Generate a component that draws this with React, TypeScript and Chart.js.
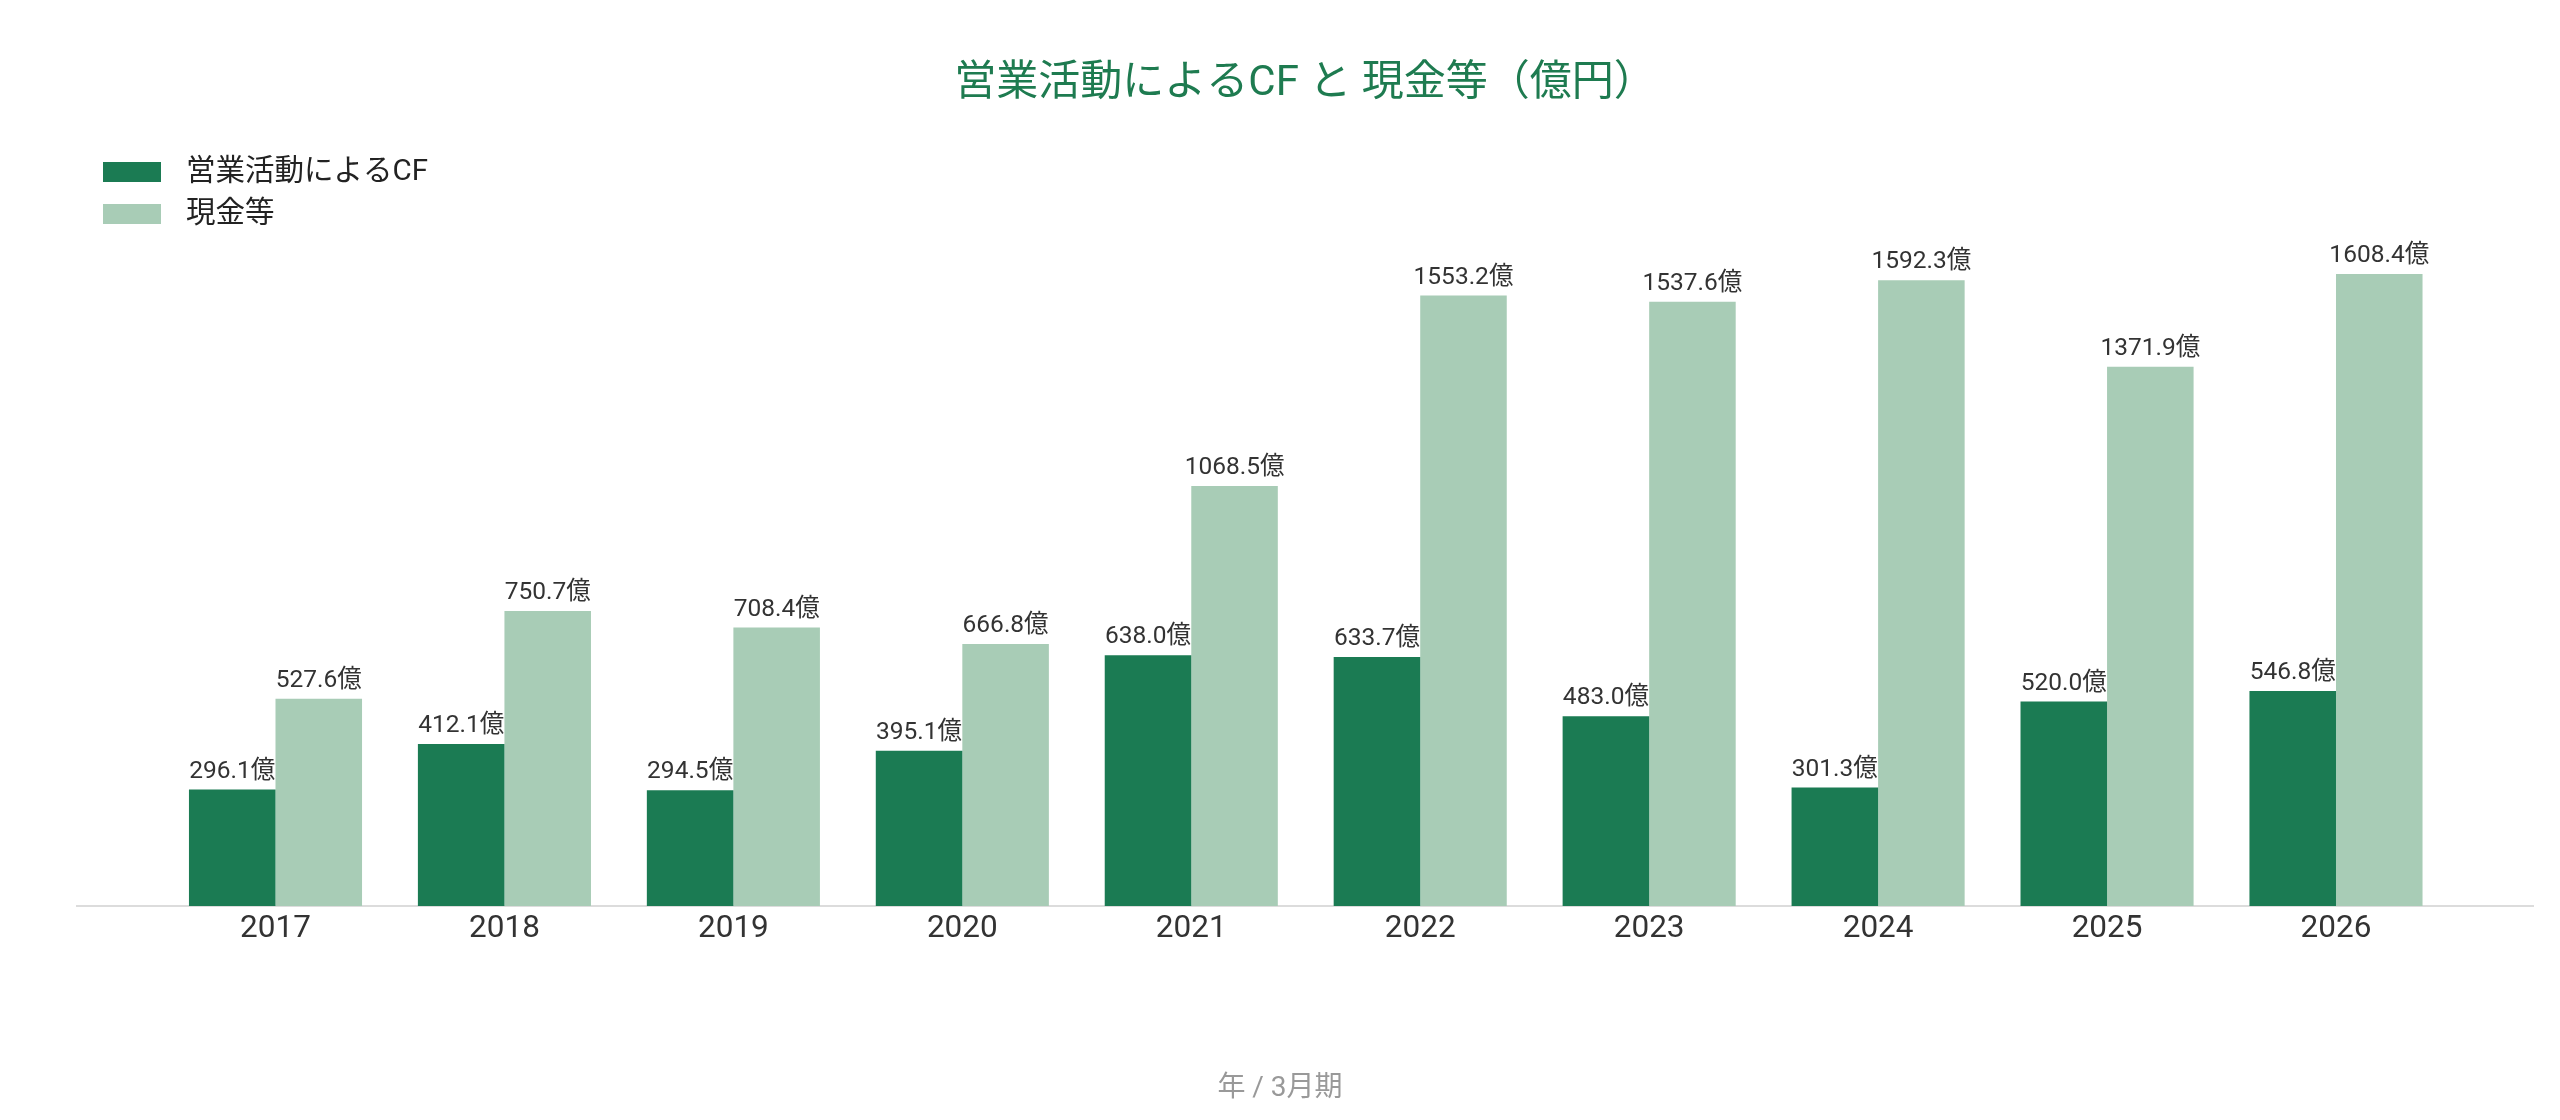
import React, { useEffect, useRef } from 'react';
import { Chart, registerables } from 'chart.js';

Chart.register(...registerables);

const years: number[] = [2017, 2018, 2019, 2020, 2021, 2022, 2023, 2024, 2025, 2026];
const operatingCF: number[] = [296.1, 412.1, 294.5, 395.1, 638.0, 633.7, 483.0, 301.3, 520.0, 546.8];
const cashEquivalents: number[] = [527.6, 750.7, 708.4, 666.8, 1068.5, 1553.2, 1537.6, 1592.3, 1371.9, 1608.4];
const seriesNames: string[] = ['営業活動によるCF', '現金等'];
const chartTitle = '営業活動によるCF と 現金等（億円）';
const xAxisTitle = '年 / 3月期';
const unitSuffix = '億';

const FONT = "Roboto, 'Noto Sans CJK JP', sans-serif";
const DARK = '#1b7b53';
const LIGHT = '#a8ccb6';

const decorPlugin = {
  id: 'decor',
  afterDatasetsDraw(chart: any) {
    const ctx = chart.ctx;
    ctx.save();
    ctx.font = `24.5px ${FONT}`;
    ctx.fillStyle = '#333333';
    ctx.textAlign = 'center';
    ctx.textBaseline = 'alphabetic';
    chart.data.datasets.forEach((ds: any, di: number) => {
      const meta = chart.getDatasetMeta(di);
      meta.data.forEach((bar: any, i: number) => {
        const v = ds.data[i].y as number;
        ctx.fillText(v.toFixed(1) + unitSuffix, bar.x, bar.y - 12);
      });
    });
    ctx.restore();
  },
  afterDraw(chart: any) {
    const ctx = chart.ctx;
    ctx.save();
    // legend (vertical, top-left)
    chart.data.datasets.forEach((ds: any, di: number) => {
      const rowTop = 154 + di * 42;
      ctx.fillStyle = ds.backgroundColor;
      ctx.fillRect(95, rowTop, 58, 20);
      ctx.font = `29.5px ${FONT}`;
      ctx.fillStyle = '#222222';
      ctx.textAlign = 'left';
      ctx.textBaseline = 'middle';
      ctx.fillText(ds.label, 178, rowTop + 11);
    });
    // x-axis caption
    ctx.font = `28px ${FONT}`;
    ctx.fillStyle = '#999999';
    ctx.textAlign = 'center';
    ctx.textBaseline = 'middle';
    ctx.fillText(xAxisTitle, chart.width / 2, 1081);
    ctx.restore();
  },
};

export default function App() {
  const canvasRef = useRef<HTMLCanvasElement | null>(null);

  useEffect(() => {
    if (!canvasRef.current) return;
    const chart = new Chart(canvasRef.current, {
      type: 'bar',
      data: {
        datasets: [
          {
            label: seriesNames[0],
            data: years.map((y, i) => ({ x: y, y: operatingCF[i] })),
            backgroundColor: DARK,
            borderWidth: 0,
          },
          {
            label: seriesNames[1],
            data: years.map((y, i) => ({ x: y, y: cashEquivalents[i] })),
            backgroundColor: LIGHT,
            borderWidth: 0,
          },
        ] as any,
      },
      options: {
        responsive: false,
        animation: false,
        devicePixelRatio: 1,
        layout: { padding: { left: 69, right: 19, top: 0, bottom: 158.8 } },
        datasets: { bar: { categoryPercentage: 0.756, barPercentage: 1.0 } },
        plugins: {
          legend: { display: false },
          tooltip: { enabled: false },
          title: {
            display: true,
            text: chartTitle,
            color: '#1e7b50',
            font: { family: FONT, size: 42, weight: 'normal' as any, lineHeight: 1.2 },
            padding: { top: 51, bottom: 10.6 },
          },
        },
        scales: {
          x: {
            type: 'linear',
            min: 2016.133,
            max: 2026.8605,
            offset: false,
            grid: { display: false, drawTicks: false, offset: false },
            border: { display: true, color: '#dcdcdc', width: 2 },
            ticks: {
              stepSize: 1,
              includeBounds: false,
              autoSkip: false,
              maxRotation: 0,
              padding: 5.5,
              color: '#333333',
              font: { family: FONT, size: 31.5, lineHeight: 1.15 },
              callback: (v: any) => String(v),
            },
          },
          y: {
            display: false,
            min: 0,
            max: 2000,
          },
        },
      } as any,
      plugins: [decorPlugin],
    });
    return () => chart.destroy();
  }, []);

  return (
    <canvas
      ref={canvasRef}
      width={2544}
      height={1104}
      style={{ display: 'block', width: '2544px', height: '1104px' }}
    />
  );
}
